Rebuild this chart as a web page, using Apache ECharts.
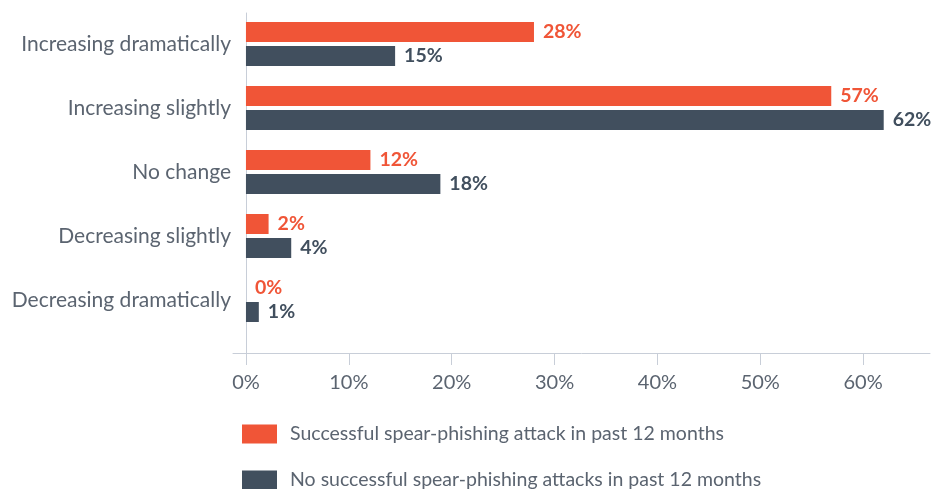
<!DOCTYPE html>
<html>
<head>
<meta charset="utf-8">
<script src="https://cdn.jsdelivr.net/npm/echarts@6/dist/echarts.min.js"></script>
<style>
html,body{margin:0;padding:0;background:#fff;}
#chart{width:940px;height:489px;}
</style>
</head>
<body>
<div id="chart"></div>
<script>
const categories = ['Increasing dramatically','Increasing slightly','No change','Decreasing slightly','Decreasing dramatically'];
const seriesNames = ['Successful spear-phishing attack in past 12 months','No successful spear-phishing attacks in past 12 months'];
// bar lengths
const successful = [28, 56.9, 12.1, 2.2, 0];
const notSuccessful = [14.5, 62, 18.9, 4.4, 1.25];
// printed labels
const successfulLabels = ['28%', '57%', '12%', '2%', '0%'];
const notSuccessfulLabels = ['15%', '62%', '18%', '4%', '1%'];
const tickValues = [0, 10, 20, 30, 40, 50, 60];

const ORANGE = '#F05537';
const DARK = '#414F5E';
const AXIS = '#C8CED8';
const TEXT = '#5B6470';
const FONT = 'Lato, "Open Sans", sans-serif';

const chart = echarts.init(document.getElementById('chart'));
const xMin = -1.26, xMax = 66.5;

function legendFor(i, top) {
  return {
    orient: 'vertical',
    left: 237,
    top: top,
    itemWidth: 35,
    itemHeight: 19,
    icon: 'rect',
    textStyle: {color: TEXT, fontSize: 19.5, fontFamily: FONT, padding: [0, 0, 0, 8]},
    data: [seriesNames[i]]
  };
}

chart.setOption({
  animation: false,
  textStyle: {fontFamily: FONT},
  grid: [
    {left: 246 - 13, top: 12, width: 697, height: 320, containLabel: false},
    {left: 246 - 13, top: 13, width: 697, height: 340, containLabel: false}
  ],
  legend: [legendFor(0, 419), legendFor(1, 465)],
  xAxis: [
    {gridIndex: 0, type: 'value', min: xMin, max: xMax, show: false, splitLine: {show: false}},
    {gridIndex: 1, type: 'value', min: xMin, max: xMax,
      axisLine: {show: true, lineStyle: {color: AXIS, width: 1}},
      axisTick: {show: true, length: 12, inside: false, customValues: tickValues, lineStyle: {color: AXIS}},
      axisLabel: {customValues: tickValues, formatter: v => v + '%', color: TEXT, fontSize: 20, margin: 20, fontFamily: FONT},
      splitLine: {show: false}}
  ],
  yAxis: [
    {gridIndex: 0, type: 'category', inverse: true, data: categories,
      axisLine: {show: false}, axisTick: {show: false},
      axisLabel: {color: TEXT, fontSize: 21, margin: 2, fontFamily: FONT, padding: [4, 0, 0, 0]}},
    {gridIndex: 1, type: 'value', min: 0, max: 1,
      axisLine: {show: true, onZero: true, lineStyle: {color: AXIS}},
      axisTick: {show: false}, axisLabel: {show: false}, splitLine: {show: false}}
  ],
  series: [
    {name: seriesNames[0], type: 'bar', xAxisIndex: 0, yAxisIndex: 0, data: successful,
      barWidth: 20, barGap: '20%', itemStyle: {color: ORANGE},
      label: {show: true, position: 'right', distance: 9, formatter: p => successfulLabels[p.dataIndex],
        color: ORANGE, fontSize: 19.5, fontWeight: 'bold', fontFamily: FONT, padding: [3, 0, 0, 0]}},
    {name: seriesNames[1], type: 'bar', xAxisIndex: 0, yAxisIndex: 0, data: notSuccessful,
      barWidth: 20, barGap: '20%', itemStyle: {color: DARK},
      label: {show: true, position: 'right', distance: 9, formatter: p => notSuccessfulLabels[p.dataIndex],
        color: DARK, fontSize: 19.5, fontWeight: 'bold', fontFamily: FONT, padding: [3, 0, 0, 0]}}
  ]
});
</script>
</body>
</html>
